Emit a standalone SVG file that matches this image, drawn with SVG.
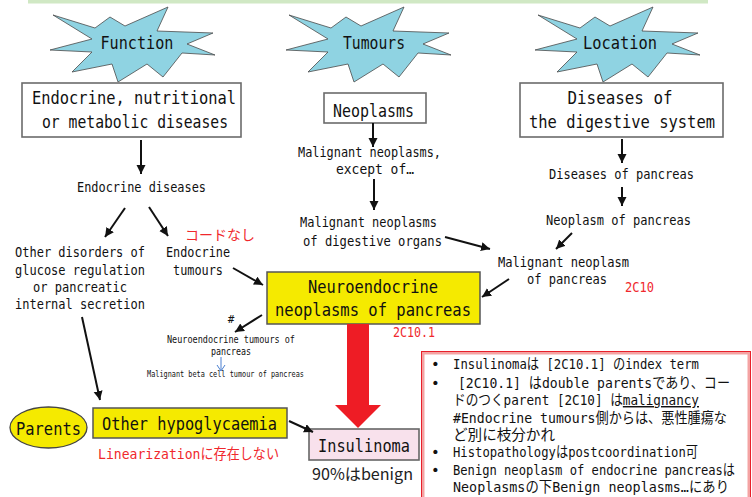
<svg xmlns="http://www.w3.org/2000/svg" xmlns:xlink="http://www.w3.org/1999/xlink" width="752" height="497" viewBox="0 0 752 497">
  <style>
    .t { font-family: "DejaVu Sans Mono", "Noto Sans CJK JP", monospace; fill: #111; }
    .big { font-size: 18px; }
    .mid { font-size: 14.5px; }
    .red { fill: #f0282d; }
    .note { font-size: 14.5px; }
    .box { fill: #fff; stroke: #6b6b6b; stroke-width: 1.6; }
    .star { fill: #8fd3e2; stroke: #4a4a4a; stroke-width: 0.8; }
    .yel { fill: #f5ea00; stroke: #555; stroke-width: 1.5; }
    .arr { stroke: #111; stroke-width: 2; fill: none; marker-end: url(#ah); }
  </style>
  <defs>
    <marker id="ah" markerUnits="userSpaceOnUse" markerWidth="10" markerHeight="10" refX="9" refY="4.5" orient="auto">
      <path d="M0,0 L9,4.5 L0,9 Z" fill="#111"/>
    </marker>
    <marker id="bh" markerUnits="userSpaceOnUse" markerWidth="10" markerHeight="10" refX="5" refY="8" orient="0">
      <path d="M1,2 L5,8 L9,2" fill="none" stroke="#4a7fd0" stroke-width="1"/>
    </marker>
    <path id="burst" class="star" d="M-84,-29 L-42,-16 L-27,-27 L-12,-18 L31,-37 L20,-13 L76,-11 L50,0 L78,11 L45,9 L26,33 L10,20 L-19,38 L-25,20 L-65,28 L-45,8 L-87,6 L-45,-5 Z"/>
  </defs>

  <rect x="0" y="0" width="752" height="497" fill="#fff"/>
  <!-- header strip -->
  <rect x="28" y="0" width="680" height="3.5" fill="#d0e8c4"/>

  <!-- category bursts -->
  <g id="function">
    <use xlink:href="#burst" transform="translate(137,44)"/>
    <text class="t big" x="137" y="49" text-anchor="middle" textLength="73" lengthAdjust="spacingAndGlyphs">Function</text>
  </g>
  <g id="tumours">
    <use xlink:href="#burst" transform="translate(373,44)"/>
    <text class="t big" x="374" y="49" text-anchor="middle" textLength="62" lengthAdjust="spacingAndGlyphs">Tumours</text>
  </g>
  <g id="location">
    <use xlink:href="#burst" transform="translate(622,44)"/>
    <text class="t big" x="620" y="49" text-anchor="middle" textLength="74" lengthAdjust="spacingAndGlyphs">Location</text>
  </g>

  <!-- chapter boxes -->
  <g id="endocrine-chapter">
    <rect class="box" x="22" y="83" width="219" height="54"/>
    <text class="t big" x="32" y="104" textLength="204" lengthAdjust="spacingAndGlyphs">Endocrine, nutritional</text>
    <text class="t big" x="42" y="128" textLength="186" lengthAdjust="spacingAndGlyphs">or metabolic diseases</text>
  </g>
  <g id="neoplasms">
    <rect class="box" x="324" y="93" width="102" height="30"/>
    <text class="t big" x="333" y="117" textLength="81" lengthAdjust="spacingAndGlyphs">Neoplasms</text>
  </g>
  <g id="digestive-chapter">
    <rect class="box" x="520" y="83" width="203" height="54"/>
    <text class="t big" x="620" y="104" text-anchor="middle" textLength="105" lengthAdjust="spacingAndGlyphs">Diseases of</text>
    <text class="t big" x="529" y="128" textLength="186" lengthAdjust="spacingAndGlyphs">the digestive system</text>
  </g>

  <!-- intermediate categories -->
  <g id="endocrine-diseases">
    <text class="t mid" x="77" y="192" textLength="129" lengthAdjust="spacingAndGlyphs">Endocrine diseases</text>
  </g>
  <g id="other-disorders">
    <text class="t mid" x="15" y="257" textLength="130" lengthAdjust="spacingAndGlyphs">Other disorders of</text>
    <text class="t mid" x="15" y="275" textLength="130" lengthAdjust="spacingAndGlyphs">glucose regulation</text>
    <text class="t mid" x="80" y="292" text-anchor="middle" textLength="94" lengthAdjust="spacingAndGlyphs">or pancreatic</text>
    <text class="t mid" x="15" y="309" textLength="130" lengthAdjust="spacingAndGlyphs">internal secretion</text>
  </g>
  <g id="endocrine-tumours">
    <text class="t mid" x="166" y="257" textLength="64" lengthAdjust="spacingAndGlyphs">Endocrine</text>
    <text class="t mid" x="198" y="275" text-anchor="middle" textLength="50" lengthAdjust="spacingAndGlyphs">tumours</text>
    <text class="t red" x="185" y="240" font-size="14" textLength="70" lengthAdjust="spacingAndGlyphs">コードなし</text>
  </g>
  <g id="malignant-except">
    <text class="t mid" x="298" y="157" textLength="143" lengthAdjust="spacingAndGlyphs">Malignant neoplasms,</text>
    <text class="t mid" x="336" y="174" textLength="78" lengthAdjust="spacingAndGlyphs">except of…</text>
  </g>
  <g id="malignant-digestive">
    <text class="t mid" x="300" y="227" textLength="137" lengthAdjust="spacingAndGlyphs">Malignant neoplasms</text>
    <text class="t mid" x="303" y="246" textLength="139" lengthAdjust="spacingAndGlyphs">of digestive organs</text>
  </g>
  <g id="diseases-pancreas">
    <text class="t mid" x="549" y="179" textLength="145" lengthAdjust="spacingAndGlyphs">Diseases of pancreas</text>
  </g>
  <g id="neoplasm-pancreas">
    <text class="t mid" x="546" y="225" textLength="145" lengthAdjust="spacingAndGlyphs">Neoplasm of pancreas</text>
  </g>
  <g id="malignant-pancreas">
    <text class="t mid" x="498" y="267" textLength="131" lengthAdjust="spacingAndGlyphs">Malignant neoplasm</text>
    <text class="t mid" x="527" y="284" textLength="80" lengthAdjust="spacingAndGlyphs">of pancreas</text>
    <text class="t red" x="625" y="292" font-size="14" textLength="29" lengthAdjust="spacingAndGlyphs">2C10</text>
  </g>

  <g id="neuroendocrine-neoplasms">
    <rect class="yel" x="267" y="272" width="213" height="52"/>
    <text class="t big" x="373" y="293" text-anchor="middle" textLength="130" lengthAdjust="spacingAndGlyphs">Neuroendocrine</text>
    <text class="t big" x="275" y="316" textLength="196" lengthAdjust="spacingAndGlyphs">neoplasms of pancreas</text>
    <text class="t red" x="393" y="337" font-size="14" textLength="42" lengthAdjust="spacingAndGlyphs">2C10.1</text>
  </g>

  <g id="net-pancreas">
    <text class="t" x="231" y="323" font-size="11" text-anchor="middle">#</text>
    <text class="t" x="167" y="343" font-size="10.5" textLength="128" lengthAdjust="spacingAndGlyphs">Neuroendocrine tumours of</text>
    <text class="t" x="231" y="355" font-size="10.5" text-anchor="middle" textLength="40" lengthAdjust="spacingAndGlyphs">pancreas</text>
  </g>
  <g id="malignant-beta-cell">
    <text class="t" x="147" y="377" font-size="8.5" textLength="157" lengthAdjust="spacingAndGlyphs">Malignant beta cell tumour of pancreas</text>
  </g>

  <g id="parents">
    <ellipse cx="48.5" cy="427.5" rx="38.5" ry="20.5" fill="#f5ea00" stroke="#444" stroke-width="1.3"/>
    <text class="t big" x="16" y="435" textLength="65" lengthAdjust="spacingAndGlyphs">Parents</text>
  </g>
  <g id="other-hypoglycaemia">
    <rect class="yel" x="93" y="408" width="194" height="30"/>
    <text class="t big" x="102" y="430" textLength="175" lengthAdjust="spacingAndGlyphs">Other hypoglycaemia</text>
    <text class="t red" x="98" y="459" font-size="14.5" textLength="181" lengthAdjust="spacingAndGlyphs">Linearizationに存在しない</text>
  </g>
  <g id="insulinoma">
    <rect x="309" y="429" width="110" height="31" fill="#f8e1ec" stroke="#666" stroke-width="1.6"/>
    <text class="t big" x="318" y="452" textLength="92" lengthAdjust="spacingAndGlyphs">Insulinoma</text>
    <text x="312" y="480" font-family="'Noto Sans CJK JP', 'Noto Sans', sans-serif" font-size="16" fill="#222" textLength="101" lengthAdjust="spacingAndGlyphs">90%はbenign</text>
  </g>

  <!-- notes panel -->
  <g id="notes">
    <rect x="423" y="353" width="326" height="150" fill="#fff" stroke="#f4a3a3" stroke-width="3"/>
    <rect x="421.5" y="351.5" width="329" height="153" fill="none" stroke="#e8202a" stroke-width="1"/>
    <g class="t note">
      <text x="431" y="369">•</text>
      <text x="453" y="369" textLength="246" lengthAdjust="spacingAndGlyphs">Insulinomaは [2C10.1] のindex term</text>
      <text x="431" y="388">•</text>
      <text x="458" y="388" textLength="272" lengthAdjust="spacingAndGlyphs">[2C10.1] はdouble parentsであり、コー</text>
      <text x="453" y="405" textLength="246" lengthAdjust="spacingAndGlyphs">ドのつくparent [2C10] は<tspan text-decoration="underline">malignancy</tspan></text>
      <text x="453" y="423" textLength="274" lengthAdjust="spacingAndGlyphs">#Endocrine tumours側からは、悪性腫瘍な</text>
      <text x="453" y="440" textLength="102" lengthAdjust="spacingAndGlyphs">ど別に枝分かれ</text>
      <text x="431" y="457">•</text>
      <text x="453" y="457" textLength="245" lengthAdjust="spacingAndGlyphs">Histopathologyはpostcoordination可</text>
      <text x="431" y="475">•</text>
      <text x="453" y="475" textLength="282" lengthAdjust="spacingAndGlyphs">Benign neoplasm of endocrine pancreasは</text>
      <text x="453" y="492" textLength="276" lengthAdjust="spacingAndGlyphs">Neoplasmsの下Benign neoplasms…にあり</text>
    </g>
  </g>

  <!-- connectors -->
  <g id="connectors">
    <line class="arr" x1="141" y1="140" x2="141" y2="174"/>
    <line class="arr" x1="125" y1="208" x2="105" y2="237"/>
    <line class="arr" x1="149" y1="207" x2="168" y2="236"/>
    <line class="arr" x1="233" y1="268" x2="263" y2="285"/>
    <line class="arr" x1="373" y1="123" x2="373" y2="147"/>
    <line class="arr" x1="374" y1="179" x2="374" y2="210"/>
    <line class="arr" x1="445" y1="237" x2="490" y2="249"/>
    <line class="arr" x1="622" y1="139" x2="622" y2="163"/>
    <line class="arr" x1="622" y1="187" x2="622" y2="206"/>
    <line class="arr" x1="572" y1="233" x2="556" y2="249"/>
    <line class="arr" x1="509" y1="279" x2="482" y2="297"/>
    <line class="arr" x1="262" y1="315" x2="235" y2="332"/>
    <line class="arr" x1="82" y1="317" x2="100" y2="400"/>
    <line class="arr" x1="289" y1="421" x2="313" y2="432"/>
    <line x1="221" y1="357" x2="221" y2="371" stroke="#4a7fd0" stroke-width="1" marker-end="url(#bh)"/>
    <path d="M347,324 L369,324 L369,405 L381,405 L358,428 L335,405 L347,405 Z" fill="#ee1c25"/>
  </g>
</svg>
